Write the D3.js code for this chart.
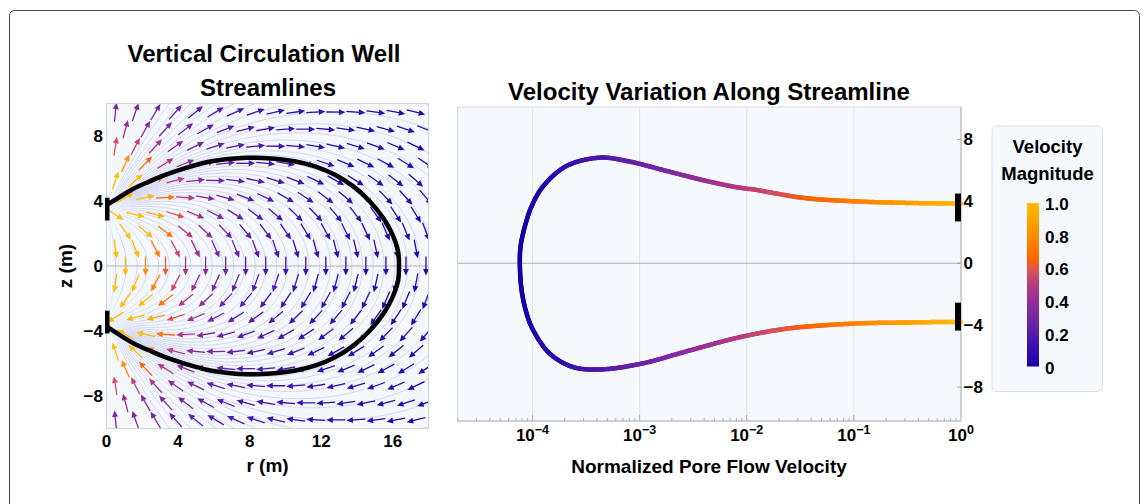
<!DOCTYPE html>
<html><head><meta charset="utf-8">
<script src="https://cdn.jsdelivr.net/npm/d3@7"></script>
<style>body{margin:0;background:#fff}svg{display:block;font-family:"Liberation Sans",Arial,sans-serif;font-weight:bold}</style>
</head><body><svg id="c" width="1147" height="504"></svg>
<script>
// ---------------- data ----------------
const wellZ = [3.5, -3.5];
const wellStrength = [1, -1];
const wellScreenLeft = [[2.8, 4.2], [-4.15, -2.75]];
const wellScreenRight = [[2.7, 4.5], [-4.35, -2.55]];

const arrowRowZ = [-9.47,-8.42,-7.37,-6.32,-5.26,-4.21,-3.16,-2.11,-1.05,0,1.05,2.11,3.16,4.21,5.26,6.32,7.37,8.42,9.47];
const arrowColsEven = [1.06,2.18,3.30,4.42,5.54,6.66,7.78,8.90,10.02,11.14,12.26,13.38,14.50,15.62,16.74,17.86];
const arrowColsOdd  = [0.50,1.62,2.74,3.86,4.98,6.10,7.22,8.34,9.46,10.58,11.70,12.82,13.94,15.06,16.18,17.30];
const seedR = [0.5,1.1,1.7,2.3,2.9,3.5,4.1,4.7,5.3,5.9,6.5,7.1,7.7,8.3,8.9,9.5,10.1,10.7,11.3,11.9,12.5,13.1,13.7,14.3,14.9,15.5,16.1,16.8,17.5,18.3,19.3,20.5,22,24,26.5,29.5,33,38,44,52,63,80];

const streamR = [0,0.6,1.5,2.5,3.4,4.5,5.6,6.8,7.9,9.2,10.5,11.7,12.8,13.8,14.7,15.5,16.0,16.3,16.35,16.3,16.0,15.5,14.7,13.8,12.8,11.7,10.5,9.2,7.9,6.8,5.6,4.5,3.4,2.5,1.5,0.6,0];
const streamZ = [3.75,4.15,4.75,5.25,5.65,6.05,6.38,6.58,6.66,6.62,6.45,6.12,5.6,4.9,4.0,2.9,1.9,0.9,0,-0.9,-1.9,-2.9,-4.0,-4.9,-5.6,-6.12,-6.45,-6.62,-6.66,-6.58,-6.38,-6.05,-5.65,-5.25,-4.75,-4.15,-3.72];

const curveV = [1,0.851,0.288,0.1,0.0339,0.0116,0.0087,0.00427,0.00181,0.000766,0.000426,0.000208,0.000126,0.0000982,0.0000849,0.0000774,0.0000762,
                0.0000791,0.0000881,0.0001016,0.000145,0.00024,0.000426,0.00102,0.00295,0.0087,0.024,0.1,0.288,0.851,1];
const curveZ = [3.84,3.85,3.9,4.0,4.22,4.76,4.87,5.3,5.95,6.6,6.82,6.28,4.98,3.68,2.38,1.08,0,
                -1.73,-3.24,-4.33,-5.84,-6.71,-6.86,-6.5,-5.63,-4.77,-4.22,-3.9,-3.83,-3.79,-3.79];
const curveVmin = 0.0000794;

const leftXTicks = [0,4,8,12,16];
const leftYTicks = [-8,-4,0,4,8];
const rightXTicks = [1e-4,1e-3,1e-2,1e-1,1];
const rightXExp = ["\u22124","\u22123","\u22122","\u22121","0"];
const rightYTicks = [-8,-4,0,4,8];
const legendTicks = [0,0.2,0.4,0.6,0.8,1.0];
const legendLabels = ["0","0.2","0.4","0.6","0.8","1.0"];
const colorStops = [0,0.12,0.25,0.38,0.5,0.58,0.66,0.8,1.0];
const colorValues = ["#1600a8","#3a10b0","#6522a8","#8e2c9c","#b63c7e","#d9505a","#ff6400","#ff8c00","#ffbc00"];

// ---------------- setup ----------------
const svg = d3.select("#c");
const cmap = d3.scaleLinear().domain(colorStops).range(colorValues).clamp(true);
const fmtMinus = s => String(s).replace("-", "\u2212");

svg.append("rect").attr("x",9.5).attr("y",10.5).attr("width",1130).attr("height",530)
  .attr("rx",5).attr("fill","#fff").attr("stroke","#444").attr("stroke-width",1);

// ================= LEFT PANEL =================
const xL = d3.scaleLinear().domain([0,18]).range([106.5,428.5]);
const yL = d3.scaleLinear().domain([-10,10]).range([428.5,103.5]);
const gL = svg.append("g");
svg.append("clipPath").attr("id","clipL").append("rect")
  .attr("x",xL(0)).attr("y",yL(10)).attr("width",xL(18)-xL(0)).attr("height",yL(-10)-yL(10));
gL.append("rect").attr("x",xL(0)).attr("y",yL(10)).attr("width",xL(18)-xL(0)).attr("height",yL(-10)-yL(10))
  .attr("fill","#f4f8fd");

const inner = gL.append("g").attr("clip-path","url(#clipL)");

// stream function for faint streamlines
function psi(r,z){ let s=0; wellZ.forEach((zk,k)=>{const dz=z-zk; s+=wellStrength[k]*dz/Math.sqrt(r*r+dz*dz+1e-9);}); return s; }
const r0=-0.6, dr=0.05, z0=-10.6, dz=0.05, nx=390, ny=425;
const vals = new Float64Array(nx*ny);
for(let j=0;j<ny;j++) for(let i=0;i<nx;i++) vals[j*nx+i]=psi(r0+i*dr+0.013, z0+j*dz+0.011);
const levels = seedR.map(R => psi(R,0));
const contours = d3.contours().size([nx,ny]).thresholds(levels.slice().sort((a,b)=>a-b))(vals);
const proj = d3.geoTransform({point:function(x,y){ this.stream.point(xL(r0+x*dr), yL(z0+y*dz)); }});
const gp = d3.geoPath(proj);
// fade lines near the wells where they bunch together
const mask = svg.append("defs").append("mask").attr("id","wellFade");
mask.append("rect").attr("x",0).attr("y",0).attr("width",1147).attr("height",504).attr("fill","#fff");
const rg = svg.select("defs").append("radialGradient").attr("id","fadeG");
rg.append("stop").attr("offset",0).attr("stop-color","#000");
rg.append("stop").attr("offset",0.45).attr("stop-color","#555");
rg.append("stop").attr("offset",1).attr("stop-color","#fff");
wellZ.forEach(z=>mask.append("circle").attr("cx",xL(0)).attr("cy",yL(z)).attr("r",34).attr("fill","url(#fadeG)"));
inner.append("g").attr("mask","url(#wellFade)").selectAll("path").data(contours).join("path")
  .attr("d",gp).attr("fill","none").attr("stroke","#c6cced").attr("stroke-width",0.8);

inner.append("line").attr("x1",xL(0)).attr("x2",xL(18)).attr("y1",yL(0)).attr("y2",yL(0))
  .attr("stroke","#aeb2ba").attr("stroke-width",1);

// arrows
function vel(r,z){ let vr=0,vz=0; wellZ.forEach((zk,k)=>{const dz=z-zk, d3=Math.pow(r*r+dz*dz,1.5); vr+=wellStrength[k]*r/d3; vz+=wellStrength[k]*dz/d3;}); return [vr,vz]; }
const v0 = vel(arrowColsEven[0],0); const s0 = Math.hypot(v0[0],v0[1]);
const kx = xL(1)-xL(0), ky = yL(0)-yL(1);
const arrows = [];
arrowRowZ.forEach((z,i)=>{
  const cols = (Math.abs(i-9)%2===0) ? arrowColsEven : arrowColsOdd;
  cols.forEach(r=>{
    const [vr,vz]=vel(r,z); const s=Math.hypot(vr,vz);
    let ux=vr*kx, uy=-vz*ky; const n=Math.hypot(ux,uy); ux/=n; uy/=n;
    arrows.push({cx:xL(r),cy:yL(z),ux,uy,c:Math.min(1,Math.pow(s/s0,0.6))});
  });
});
const L=19, hl=6.5, hw=3;
const ag = inner.append("g");
arrows.forEach(a=>{
  const tx=a.cx+a.ux*L/2, ty=a.cy+a.uy*L/2, bx=a.cx-a.ux*L/2, by=a.cy-a.uy*L/2;
  const col=cmap(a.c);
  ag.append("line").attr("x1",bx).attr("y1",by).attr("x2",tx-a.ux*hl*0.8).attr("y2",ty-a.uy*hl*0.8)
    .attr("stroke",col).attr("stroke-width",1.3);
  const hx=tx-a.ux*hl, hy=ty-a.uy*hl, nx_=-a.uy, ny_=a.ux;
  ag.append("path").attr("d",`M${tx},${ty}L${hx+nx_*hw},${hy+ny_*hw}L${hx-nx_*hw},${hy-ny_*hw}Z`).attr("fill",col);
});

// black streamline
const lineL = d3.line().x((d,i)=>xL(streamR[i])).y((d,i)=>yL(streamZ[i])).curve(d3.curveCatmullRom.alpha(0.5));
gL.append("path").attr("d",lineL(streamR)).attr("fill","none").attr("stroke","#000").attr("stroke-width",4.5).attr("stroke-linejoin","round");

gL.append("rect").attr("x",xL(0)).attr("y",yL(10)).attr("width",xL(18)-xL(0)).attr("height",yL(-10)-yL(10))
  .attr("fill","none").attr("stroke","#cfd3da").attr("stroke-width",1);

wellScreenLeft.forEach(w=>{
  gL.append("rect").attr("x",xL(0)-1.5).attr("y",yL(w[1])).attr("width",4.5).attr("height",yL(w[0])-yL(w[1])).attr("fill","#000");
});

// left axes text
gL.selectAll(".ly").data(leftYTicks).join("text").attr("x",103).attr("y",d=>yL(d)+6)
  .attr("text-anchor","end").attr("font-size",17).text(d=>fmtMinus(d));
gL.selectAll(".lx").data(leftXTicks).join("text").attr("x",d=>xL(d)).attr("y",447)
  .attr("text-anchor","middle").attr("font-size",17).text(d=>d);
gL.append("text").attr("transform",`translate(72,${yL(0)}) rotate(-90)`).attr("text-anchor","middle").attr("font-size",19).text("z (m)");
gL.append("text").attr("x",(xL(0)+xL(18))/2).attr("y",472).attr("text-anchor","middle").attr("font-size",19).text("r (m)");
gL.append("text").attr("x",264).attr("y",61.5).attr("text-anchor","middle").attr("font-size",24).text("Vertical Circulation Well");
gL.append("text").attr("x",268).attr("y",96).attr("text-anchor","middle").attr("font-size",24).text("Streamlines");

// ================= RIGHT PANEL =================
const xR = d3.scaleLog().domain([Math.pow(10,-4.7),1]).range([457.5,961]);
const yR = d3.scaleLinear().domain([-10.19,10.09]).range([421,107]);
const gR = svg.append("g");
const zTop = yR.domain()[1], zBot = yR.domain()[0];
gR.append("rect").attr("x",xR.range()[0]).attr("y",yR(zTop)).attr("width",xR.range()[1]-xR.range()[0]).attr("height",yR(zBot)-yR(zTop))
  .attr("fill","#f5f9fd").attr("stroke","#d4d8de").attr("stroke-width",1);
gR.selectAll(".gx").data(rightXTicks.slice(0,4)).join("line")
  .attr("x1",d=>xR(d)).attr("x2",d=>xR(d)).attr("y1",yR(zTop)).attr("y2",yR(zBot))
  .attr("stroke","#e1e5eb").attr("stroke-width",1);
gR.append("line").attr("x1",xR.range()[0]).attr("x2",961).attr("y1",yR(0)).attr("y2",yR(0))
  .attr("stroke","#a9adb5").attr("stroke-width",1);
gR.append("line").attr("x1",961).attr("x2",961).attr("y1",yR(zTop)).attr("y2",yR(zBot)).attr("stroke","#b4b8bf");
gR.append("line").attr("x1",457.5).attr("x2",961).attr("y1",yR(zBot)).attr("y2",yR(zBot)).attr("stroke","#b4b8bf");
const minor=[];
for(let e=-5;e<0;e++) for(let m=1;m<10;m++){ const v=m*Math.pow(10,e); if(v>=xR.domain()[0] && v<=1) minor.push({v,major:m===1}); }
gR.selectAll(".mt").data(minor).join("line").attr("x1",d=>xR(d.v)).attr("x2",d=>xR(d.v))
  .attr("y1",yR(zBot)).attr("y2",d=>yR(zBot)-(d.major?6:3)).attr("stroke","#9a9ea6").attr("stroke-width",0.8);
gR.selectAll(".yt").data(rightYTicks).join("line").attr("x1",957).attr("x2",961).attr("y1",d=>yR(d)).attr("y2",d=>yR(d)).attr("stroke","#9a9ea6");

// colored curve
const lineR = d3.line().x((d,i)=>xR(curveV[i])).y((d,i)=>yR(curveZ[i])).curve(d3.curveCatmullRom.alpha(0.5));
const hidden = gR.append("path").attr("d",lineR(curveV)).attr("fill","none").attr("stroke","none");
const total = hidden.node().getTotalLength();
const N = 600; const pts=[];
for(let i=0;i<=N;i++){ pts.push(hidden.node().getPointAtLength(total*i/N)); }
const lmin = Math.log10(curveVmin);
const cg = gR.append("g");
for(let i=0;i<N;i++){
  const a=pts[i], b=pts[i+1];
  const v = xR.invert((a.x+b.x)/2);
  const c = (Math.log10(v)-lmin)/(0-lmin);
  cg.append("line").attr("x1",a.x).attr("y1",a.y).attr("x2",b.x).attr("y2",b.y)
    .attr("stroke",cmap(c)).attr("stroke-width",4.5).attr("stroke-linecap","round");
}
wellScreenRight.forEach(w=>{
  gR.append("rect").attr("x",955).attr("y",yR(w[1])).attr("width",6).attr("height",yR(w[0])-yR(w[1])).attr("fill","#000");
});

gR.selectAll(".ry").data(rightYTicks).join("text").attr("x",963.5).attr("y",d=>yR(d)+6)
  .attr("font-size",17).text(d=>fmtMinus(d));
rightXTicks.forEach((t,i)=>{
  const tx = gR.append("text").attr("x",xR(t)).attr("y",441).attr("text-anchor","middle").attr("font-size",17);
  tx.append("tspan").text("10");
  tx.append("tspan").attr("dy",-7).attr("font-size",12.5).text(rightXExp[i]);
});
gR.append("text").attr("x",709).attr("y",473).attr("text-anchor","middle").attr("font-size",19).text("Normalized Pore Flow Velocity");
gR.append("text").attr("x",709).attr("y",99.5).attr("text-anchor","middle").attr("font-size",24).text("Velocity Variation Along Streamline");

// ================= LEGEND =================
const gG = svg.append("g");
gG.append("rect").attr("x",992).attr("y",126).attr("width",110.5).attr("height",265.5).attr("rx",5)
  .attr("fill","#f5f9fd").attr("stroke","#dde1e6").attr("stroke-width",1);
gG.append("text").attr("x",1047.5).attr("y",153).attr("text-anchor","middle").attr("font-size",18.5).text("Velocity");
gG.append("text").attr("x",1047.5).attr("y",179.5).attr("text-anchor","middle").attr("font-size",18.5).text("Magnitude");
const yC = d3.scaleLinear().domain([0,1]).range([366.5,203]);
const lg = svg.select("defs").append("linearGradient").attr("id","cbar").attr("x1",0).attr("y1",1).attr("x2",0).attr("y2",0);
colorStops.forEach((s,i)=>lg.append("stop").attr("offset",s).attr("stop-color",colorValues[i]));
gG.append("rect").attr("x",1027).attr("y",yC(1)).attr("width",12).attr("height",yC(0)-yC(1)).attr("fill","url(#cbar)");
gG.selectAll(".lt").data(legendTicks).join("text").attr("x",1045).attr("y",d=>yC(d)+7)
  .attr("font-size",17).text((d,i)=>legendLabels[i]);
</script></body></html>
